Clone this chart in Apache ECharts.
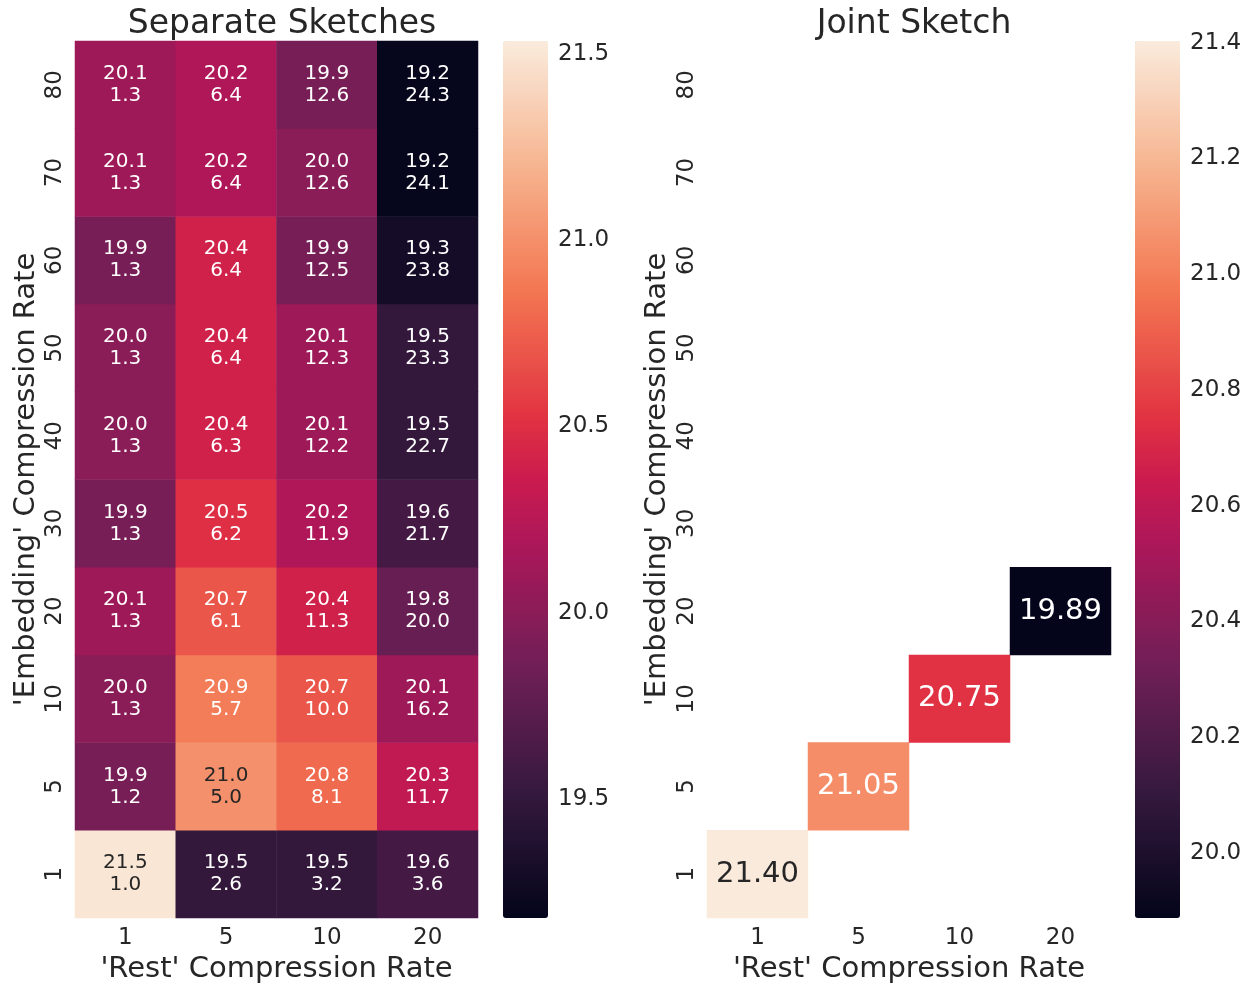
<!DOCTYPE html>
<html>
<head>
<meta charset="utf-8">
<script src="https://cdn.jsdelivr.net/npm/echarts@6/dist/echarts.min.js"></script>
<style>
  html, body { margin: 0; padding: 0; background: #fff; }
  #chart { width: 1251px; height: 984px; }
</style>
</head>
<body>
<div id="chart"></div>
<script>
// categories
const restRates = ['1', '5', '10', '20']
const embRates = ['1', '5', '10', '20', '30', '40', '50', '60', '70', '80']

// separate sketches: rows go from embedding rate 1 (bottom) up to 80 (top)
const sepScore = [
  [21.5, 19.5, 19.5, 19.6],
  [19.9, 21.0, 20.8, 20.3],
  [20.0, 20.9, 20.7, 20.1],
  [20.1, 20.7, 20.4, 19.8],
  [19.9, 20.5, 20.2, 19.6],
  [20.0, 20.4, 20.1, 19.5],
  [20.0, 20.4, 20.1, 19.5],
  [19.9, 20.4, 19.9, 19.3],
  [20.1, 20.2, 20.0, 19.2],
  [20.1, 20.2, 19.9, 19.2]
]
const sepSize = [
  [1.0, 2.6, 3.2, 3.6],
  [1.2, 5.0, 8.1, 11.7],
  [1.3, 5.7, 10.0, 16.2],
  [1.3, 6.1, 11.3, 20.0],
  [1.3, 6.2, 11.9, 21.7],
  [1.3, 6.3, 12.2, 22.7],
  [1.3, 6.4, 12.3, 23.3],
  [1.3, 6.4, 12.5, 23.8],
  [1.3, 6.4, 12.6, 24.1],
  [1.3, 6.4, 12.6, 24.3]
]

// joint sketch: only the diagonal cells (1,1) (5,5) (10,10) (20,20)
const jointScore = [21.40, 21.05, 20.75, 19.89]

// colour bar ranges and ticks
const sepRange = [19.18, 21.535]
const sepTicks = [19.5, 20.0, 20.5, 21.0, 21.5]
const jointRange = [19.887, 21.403]
const jointTicks = [20.0, 20.2, 20.4, 20.6, 20.8, 21.0, 21.2, 21.4]

const FONT = 'DejaVu Sans'
const TXT = '#262626'

// seaborn "rocket" colormap, rough stops
const rocketStops = [
  [0.0, '#03051a'], [0.143, '#35193e'], [0.286, '#701f57'], [0.429, '#ad1759'],
  [0.5, '#cb1b4f'], [0.571, '#e13342'], [0.714, '#f37651'], [0.857, '#f6b48f'], [1.0, '#faebdd']
]
function hex2rgb(h) {
  return [parseInt(h.substr(1, 2), 16), parseInt(h.substr(3, 2), 16), parseInt(h.substr(5, 2), 16)]
}
function rocket(t) {
  for (let i = 1; i < rocketStops.length; i++) {
    if (t <= rocketStops[i][0]) {
      let a = rocketStops[i - 1], b = rocketStops[i]
      let f = (t - a[0]) / (b[0] - a[0])
      let ca = hex2rgb(a[1]), cb = hex2rgb(b[1])
      let c = ca.map((v, k) => Math.round(v + (cb[k] - v) * f))
      return 'rgb(' + c.join(',') + ')'
    }
  }
  return rocketStops[rocketStops.length - 1][1]
}
const rocketList = []
for (let i = 0; i <= 70; i++) rocketList.push(rocket(i / 70))

// heatmap data
const sepData = []
sepScore.forEach((row, y) => {
  row.forEach((v, x) => {
    sepData.push({
      value: [x, y, v],
      size: sepSize[y][x],
      label: { color: v >= 20.95 ? TXT : '#fff' }
    })
  })
})
const jointData = jointScore.map((v, i) => ({
  value: [i, i, v],
  label: { color: v >= 21.2 ? TXT : '#fff' }
}))

function heatAxes(gridIndex, yNameGap) {
  return {
    x: {
      type: 'category', gridIndex: gridIndex, data: restRates,
      axisLine: { show: false },
      axisTick: { alignWithLabel: true, length: 6, lineStyle: { color: '#666' } },
      axisLabel: { fontFamily: FONT, fontSize: 23, color: TXT, margin: 9 },
      splitArea: { show: false },
      name: "'Rest' Compression Rate", nameLocation: 'middle', nameGap: 37,
      nameTextStyle: { fontFamily: FONT, fontSize: 29, color: TXT }
    },
    y: {
      type: 'category', gridIndex: gridIndex, data: embRates,
      axisLine: { show: false },
      axisTick: { alignWithLabel: true, length: 6, lineStyle: { color: '#666' } },
      axisLabel: { fontFamily: FONT, fontSize: 23, color: TXT, margin: 8, rotate: 90 },
      splitArea: { show: false },
      name: "'Embedding' Compression Rate", nameLocation: 'middle', nameGap: yNameGap,
      nameTextStyle: { fontFamily: FONT, fontSize: 29, color: TXT }
    }
  }
}
function barAxis(gridIndex, range, ticks) {
  return {
    type: 'value', gridIndex: gridIndex, position: 'right',
    min: range[0], max: range[1],
    axisLine: { show: false },
    splitLine: { show: false },
    axisTick: { show: true, length: 5, lineStyle: { color: '#666' }, customValues: ticks },
    axisLabel: {
      fontFamily: FONT, fontSize: 23, color: TXT, margin: 10,
      customValues: ticks, formatter: v => v.toFixed(1)
    }
  }
}

const a0 = heatAxes(0, 34)
const a2 = heatAxes(2, 35)

const chart = echarts.init(document.getElementById('chart'))
chart.setOption({
  animation: false,
  backgroundColor: '#fff',
  title: [
    { text: 'Separate Sketches', left: 277, top: 3, textAlign: 'center',
      textStyle: { fontFamily: FONT, fontSize: 33, fontWeight: 'normal', color: TXT } },
    { text: 'Joint Sketch', left: 909, top: 3, textAlign: 'center',
      textStyle: { fontFamily: FONT, fontSize: 33, fontWeight: 'normal', color: TXT } }
  ],
  grid: [
    { left: 75, top: 41, width: 403, height: 877, outerBoundsMode: 'none' },
    { left: 503, top: 41, width: 45, height: 877, outerBoundsMode: 'none' },
    { left: 707, top: 41, width: 404, height: 877, outerBoundsMode: 'none' },
    { left: 1135, top: 41, width: 45, height: 877, outerBoundsMode: 'none' }
  ],
  xAxis: [
    a0.x,
    { type: 'value', gridIndex: 1, show: false, min: 0, max: 1 },
    a2.x,
    { type: 'value', gridIndex: 3, show: false, min: 0, max: 1 }
  ],
  yAxis: [
    a0.y,
    barAxis(1, sepRange, sepTicks),
    a2.y,
    barAxis(3, jointRange, jointTicks)
  ],
  visualMap: [
    { type: 'continuous', seriesIndex: 0, min: sepRange[0], max: sepRange[1],
      calculable: false, orient: 'vertical', left: 503, top: 41, padding: 0,
      itemWidth: 45, itemHeight: 877, text: null, hoverLink: false,
      inRange: { color: rocketList } },
    { type: 'continuous', seriesIndex: 1, min: jointRange[0], max: jointRange[1],
      calculable: false, orient: 'vertical', left: 1135, top: 41, padding: 0,
      itemWidth: 45, itemHeight: 877, text: null, hoverLink: false,
      inRange: { color: rocketList } }
  ],
  series: [
    {
      type: 'heatmap', xAxisIndex: 0, yAxisIndex: 0, data: sepData,
      itemStyle: { borderWidth: 0 },
      label: {
        show: true, fontFamily: FONT, fontSize: 20, lineHeight: 22,
        formatter: p => p.value[2].toFixed(1) + '\n' + p.data.size.toFixed(1)
      },
      emphasis: { disabled: true }
    },
    {
      type: 'heatmap', xAxisIndex: 2, yAxisIndex: 2, data: jointData,
      itemStyle: { borderWidth: 0 },
      label: {
        show: true, fontFamily: FONT, fontSize: 29,
        formatter: p => p.value[2].toFixed(2)
      },
      emphasis: { disabled: true }
    }
  ]
})
</script>
</body>
</html>
